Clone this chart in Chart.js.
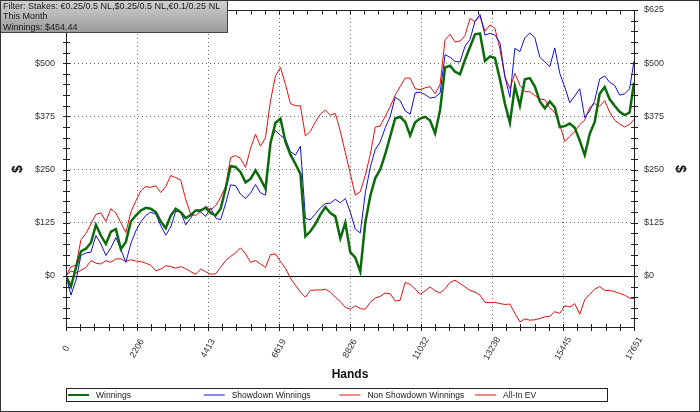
<!DOCTYPE html>
<html>
<head>
<meta charset="utf-8">
<script src="https://cdn.jsdelivr.net/npm/chart.js@4.4.1/dist/chart.umd.min.js"></script>
<style>
  html, body { margin: 0; padding: 0; background: #fff; }
  canvas { display: block; }
</style>
</head>
<body>
<canvas id="graph" width="700" height="412"></canvas>
<script>
// ---------- data ----------
const totalHands = 17651;

const hands = [
  0,155,310,465,620,775,930,1085,1240,1395,
  1550,1705,1860,2015,2170,2325,2480,2635,2790,2945,
  3100,3255,3410,3565,3720,3875,4030,4185,4340,4495,
  4650,4805,4960,5115,5270,5425,5580,5735,5890,6045,
  6200,6355,6510,6665,6820,6975,7130,7285,7440,7595,
  7750,7905,8060,8215,8370,8525,8680,8835,8990,9145,
  9300,9455,9610,9765,9920,10075,10230,10385,10540,10695,
  10850,11005,11160,11315,11470,11625,11780,11935,12090,12245,
  12400,12555,12710,12865,13020,13175,13330,13485,13640,13795,
  13950,14105,14260,14415,14570,14725,14880,15035,15190,15345,
  15500,15655,15810,15965,16120,16275,16430,16585,16740,16895,
  17050,17205,17360,17515,17651
];

const winnings = [
  0,-25,20,58,64,78,120,95,75,104,
  110,63,80,128,142,154,160,158,150,128,
  112,142,158,150,136,143,154,154,160,148,
  142,158,205,258,256,244,220,228,248,228,
  205,312,360,370,315,285,263,240,93,105,
  122,144,162,148,140,88,125,56,43,10,
  125,188,230,250,286,328,370,374,362,330,
  361,370,374,365,335,390,490,494,480,474,
  508,538,568,570,505,516,512,462,405,360,
  446,400,462,465,445,410,394,410,396,350,
  352,358,348,318,284,334,362,428,444,415,
  400,386,378,384,454.44
];

const showdown = [
  0,-45,-10,48,54,56,95,75,48,66,
  90,62,32,76,106,127,142,150,145,118,
  96,115,152,150,120,136,154,150,140,160,
  136,132,170,214,212,192,182,195,215,195,
  190,318,342,330,322,292,284,305,135,132,
  146,160,170,171,180,172,182,150,110,101,
  195,255,297,315,348,375,420,412,388,380,
  430,432,426,418,420,430,520,514,504,503,
  540,556,598,615,566,570,566,548,468,420,
  535,527,560,571,560,514,503,492,536,476,
  444,407,423,440,372,388,412,463,470,455,
  448,425,428,440,505
];

const nonShowdown = [
  0,12,7,13,20,36,30,28,36,32,
  40,40,34,38,35,34,30,25,12,16,
  24,22,18,22,17,10,4,16,10,4,
  5,20,36,46,54,66,52,32,36,28,
  20,50,52,34,18,-5,-22,-38,-50,-34,
  -33,-33,-31,-38,-50,-60,-74,-78,-70,-77,
  -78,-62,-52,-48,-40,-42,-59,-57,-15,-20,
  -31,-43,-35,-26,-35,-40,-30,-15,-10,-18,
  -26,-34,-38,-45,-62,-63,-62,-65,-67,-66,
  -88,-108,-101,-104,-103,-100,-96,-95,-84,-88,
  -70,-73,-65,-90,-56,-43,-31,-25,-34,-34,
  -37,-41,-45,-52,-53
];

const allInEV = [
  0,22,25,85,100,122,145,148,128,158,
  148,125,102,150,176,200,210,208,212,196,
  210,236,231,225,180,145,142,152,164,155,
  165,185,210,278,283,276,255,300,333,305,
  325,412,470,490,450,405,400,400,329,340,
  362,380,390,378,382,340,290,240,190,198,
  236,285,350,352,375,398,425,445,465,465,
  440,438,442,445,428,450,555,568,550,552,
  565,605,598,610,575,590,582,533,468,440,
  476,448,433,433,424,416,414,395,384,355,
  316,328,339,356,366,396,405,399,412,385,
  366,357,350,356,368
];

const seriesNames = ['Winnings', 'Showdown Winnings', 'Non Showdown Winnings', 'All-In EV'];
const xTickLabels = ['0', '2206', '4413', '6619', '8826', '11032', '13238', '15445', '17651'];
const yTickValues = [0, 125, 250, 375, 500, 625];
const yTickLabels = ['$0', '$125', '$250', '$375', '$500', '$625'];
const filterLines = [
  'Filter: Stakes: \u20AC0.25/0.5 NL,$0.25/0.5 NL,\u20AC0.1/0.25 NL',
  'This Month',
  'Winnings: $454.44'
];

const yMin = -120, yMax = 625, yMinor = 25;
const xMinorPerMajor = 5;

const FONT = '"Liberation Sans", Arial, sans-serif';

function pts(vals) { return vals.map((v, i) => ({ x: hands[i], y: v })); }

// ---------- decorations: frame, ticks, labels, legend, filter box ----------
const decor = {
  id: 'decor',
  beforeDatasetsDraw(chart) {
    const { ctx, chartArea: a, scales: { y } } = chart;
    const y0 = Math.round(y.getPixelForValue(0)) + 0.5;
    ctx.save();
    ctx.strokeStyle = '#000';
    ctx.lineWidth = 1;
    ctx.beginPath(); ctx.moveTo(a.left, y0); ctx.lineTo(a.right, y0); ctx.stroke();
    ctx.restore();
  },
  afterDraw(chart) {
    const { ctx, chartArea: a, scales: { x, y } } = chart;
    const L = Math.round(a.left) + 0.5, R = Math.round(a.right) + 0.5;
    const T = Math.round(a.top) + 0.5, B = Math.round(a.bottom) + 0.5;
    ctx.save();

    // frame
    ctx.strokeStyle = '#222';
    ctx.lineWidth = 1;
    ctx.strokeRect(L, T, R - L, B - T);

    // x ticks (bottom crossing, top inward)
    ctx.beginPath();
    x.ticks.forEach(t => {
      const px = Math.round(x.getPixelForValue(t.value)) + 0.5;
      ctx.moveTo(px, B - 3.5); ctx.lineTo(px, B + 3.5);
      ctx.moveTo(px, T); ctx.lineTo(px, T + 4);
    });
    // y ticks (both sides crossing)
    y.ticks.forEach(t => {
      const py = Math.round(y.getPixelForValue(t.value)) + 0.5;
      ctx.moveTo(L - 3.5, py); ctx.lineTo(L + 3.5, py);
      ctx.moveTo(R - 3.5, py); ctx.lineTo(R + 3.5, py);
    });
    ctx.stroke();

    // y labels
    ctx.fillStyle = '#333';
    ctx.font = '9px ' + FONT;
    ctx.textBaseline = 'middle';
    yTickValues.forEach((v, i) => {
      const py = y.getPixelForValue(v);
      ctx.textAlign = 'right';
      ctx.fillText(yTickLabels[i], a.left - 11, py);
      ctx.textAlign = 'left';
      ctx.fillText(yTickLabels[i], a.right + 10, py);
    });

    // x labels, rotated about their centre
    ctx.textAlign = 'center';
    xTickLabels.forEach((lab, i) => {
      const px = x.getPixelForValue(totalHands * i / (xTickLabels.length - 1));
      ctx.save();
      ctx.translate(px, a.bottom + 21.5);
      ctx.rotate(-Math.PI / 3);
      ctx.fillText(lab, 0, 0);
      ctx.restore();
    });

    // axis titles
    ctx.fillStyle = '#111';
    ctx.font = 'bold 12px ' + FONT;
    ctx.fillText('Hands', (a.left + a.right) / 2, 375);
    ctx.font = 'bold 14px ' + FONT;
    ctx.save(); ctx.translate(18.5, 169); ctx.rotate(-Math.PI / 2); ctx.fillText('$', 0, 0); ctx.restore();
    ctx.save(); ctx.translate(679.5, 169); ctx.rotate(Math.PI / 2); ctx.fillText('$', 0, 0); ctx.restore();

    // legend
    const lx = L, ly = 388.5, lw = 541, lh = 13;
    ctx.strokeStyle = '#222';
    ctx.strokeRect(lx, ly, lw, lh);
    ctx.font = '8.5px ' + FONT;
    ctx.textAlign = 'left';
    chart.data.datasets.forEach((ds, i) => {
      const sx = a.left + 2 + i * 135.7;
      ctx.strokeStyle = ds.borderColor;
      ctx.lineWidth = Math.min(ds.borderWidth, 2);
      ctx.beginPath(); ctx.moveTo(sx, ly + 6.5); ctx.lineTo(sx + 21, ly + 6.5); ctx.stroke();
      ctx.fillStyle = '#222';
      ctx.fillText(ds.label, sx + 28, ly + 7);
    });

    // filter box
    const g = ctx.createLinearGradient(0, 0, 0, 33);
    g.addColorStop(0, '#d2d2d2');
    g.addColorStop(1, '#989898');
    ctx.fillStyle = g;
    ctx.fillRect(0, 0, 228, 33);
    ctx.strokeStyle = '#444';
    ctx.lineWidth = 1;
    ctx.strokeRect(0.5, 0.5, 227, 32);
    ctx.fillStyle = '#1a1a1a';
    ctx.font = '9px ' + FONT;
    ctx.textBaseline = 'middle';
    filterLines.forEach((t, i) => ctx.fillText(t, 3, 6.5 + i * 10.4));

    // outer border
    ctx.strokeStyle = '#333';
    ctx.strokeRect(0.5, 0.5, 699, 411);
    ctx.restore();
  }
};

// ---------- chart ----------
new Chart(document.getElementById('graph'), {
  type: 'line',
  data: {
    datasets: [
      { label: seriesNames[0], data: pts(winnings), borderColor: '#0b6b0b', borderWidth: 2.5 },
      { label: seriesNames[1], data: pts(showdown), borderColor: '#1010d0', borderWidth: 1 },
      { label: seriesNames[2], data: pts(nonShowdown), borderColor: '#e01010', borderWidth: 1 },
      { label: seriesNames[3], data: pts(allInEV), borderColor: '#e01010', borderWidth: 1 }
    ]
  },
  options: {
    responsive: false,
    animation: false,
    events: [],
    parsing: false,
    elements: { point: { radius: 0 }, line: { tension: 0, fill: false } },
    layout: { padding: { left: 66, right: 66, top: 10, bottom: 85 } },
    plugins: { legend: { display: false }, tooltip: { enabled: false }, title: { display: false } },
    scales: {
      x: {
        type: 'linear', min: 0, max: totalHands,
        afterBuildTicks: s => {
          const n = (xTickLabels.length - 1) * xMinorPerMajor;
          s.ticks = [];
          for (let i = 0; i <= n; i++) s.ticks.push({ value: totalHands * i / n });
        },
        ticks: { display: false },
        grid: {
          drawTicks: false,
          color: c => (c.index % xMinorPerMajor === 0 && c.index > 0 && c.index < (xTickLabels.length - 1) * xMinorPerMajor) ? '#6a6a6a' : 'rgba(0,0,0,0)'
        },
        border: { display: false, dash: [1, 3] }
      },
      y: {
        type: 'linear', min: yMin, max: yMax,
        afterBuildTicks: s => {
          s.ticks = [];
          for (let v = Math.ceil(yMin / yMinor) * yMinor; v <= yMax; v += yMinor) s.ticks.push({ value: v });
        },
        ticks: { display: false },
        grid: {
          drawTicks: false,
          color: c => {
            const v = c.tick ? c.tick.value : NaN;
            return (v % 125 === 0 && v !== 0 && v !== yMax) ? '#6a6a6a' : 'rgba(0,0,0,0)';
          }
        },
        border: { display: false, dash: [1, 3] }
      }
    }
  },
  plugins: [decor]
});
</script>
</body>
</html>
